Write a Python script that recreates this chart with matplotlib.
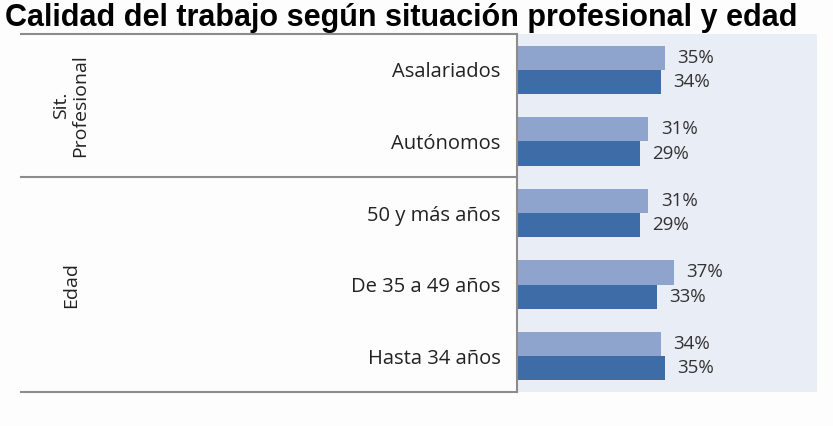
import matplotlib
matplotlib.use('Agg')
import matplotlib.pyplot as plt
import matplotlib.transforms as mtransforms
import numpy as np

# Data (top to bottom)
categories = ['Asalariados', 'Autónomos', '50 y más años', 'De 35 a 49 años', 'Hasta 34 años']
serie_clara = [35, 31, 31, 37, 34]
serie_oscura = [34, 29, 29, 33, 35]
grupos = ['Sit.\nProfesional', 'Edad']
grupo_rangos = [(0, 1), (2, 4)]
titulo = 'Calidad del trabajo según situación profesional y edad'

color_claro = '#8FA4CC'
color_oscuro = '#3E6CA6'
fondo = '#E9EEF6'
linea = '#8C8C8C'

fig = plt.figure(figsize=(8.33, 4.26), dpi=100)
fig.patch.set_facecolor('#FDFDFD')

ax = fig.add_axes([0.621, 0.08, 0.36, 0.84])
ax.set_facecolor(fondo)

n = len(categories)
ypos = np.arange(n)[::-1]
h = 0.34
ax.barh(ypos + h / 2, serie_clara, height=h, color=color_claro, zorder=2)
ax.barh(ypos - h / 2, serie_oscura, height=h, color=color_oscuro, zorder=2)

for y, v in zip(ypos + h / 2, serie_clara):
    ax.annotate(f'{v}%', xy=(v, y), xytext=(9, 0), textcoords='offset points',
                va='center', ha='left', fontsize=13.5, color='#333333', family='Open Sans')
for y, v in zip(ypos - h / 2, serie_oscura):
    ax.annotate(f'{v}%', xy=(v, y), xytext=(9, 0), textcoords='offset points',
                va='center', ha='left', fontsize=13.5, color='#333333', family='Open Sans')

ax.set_xlim(0, 71)
ax.set_ylim(-0.5, n - 0.5)
ax.set_xticks([])
ax.set_yticks(ypos)
ax.set_yticklabels(categories, fontsize=14.5, family='Open Sans', color='#222222')
ax.tick_params(axis='y', length=0, pad=12)
for s in ['top', 'right', 'bottom']:
    ax.spines[s].set_visible(False)
ax.spines['left'].set_color(linea)
ax.spines['left'].set_linewidth(1.5)

# table lines on the left, x in figure coords, y in data coords
trans = mtransforms.blended_transform_factory(fig.transFigure, ax.transData)
bordes = [n - 0.5, n - 0.5 - (grupo_rangos[0][1] + 1), -0.5]
for b in bordes:
    ax.plot([0.025, 0.621], [b, b], color=linea, lw=1.5, transform=trans, clip_on=False)

for g, (a, b) in zip(grupos, grupo_rangos):
    yc = (ypos[a] + ypos[b]) / 2
    ax.text(0.085, yc, g, transform=trans, rotation=90, ha='center', va='center',
            fontsize=14, family='Open Sans', color='#222222', linespacing=1.1)

fig.text(0.006, 0.94, titulo, fontsize=22, fontweight='bold',
         family='Liberation Sans', color='black', va='baseline', ha='left')

fig.savefig('out.png', dpi=100, facecolor=fig.get_facecolor())
